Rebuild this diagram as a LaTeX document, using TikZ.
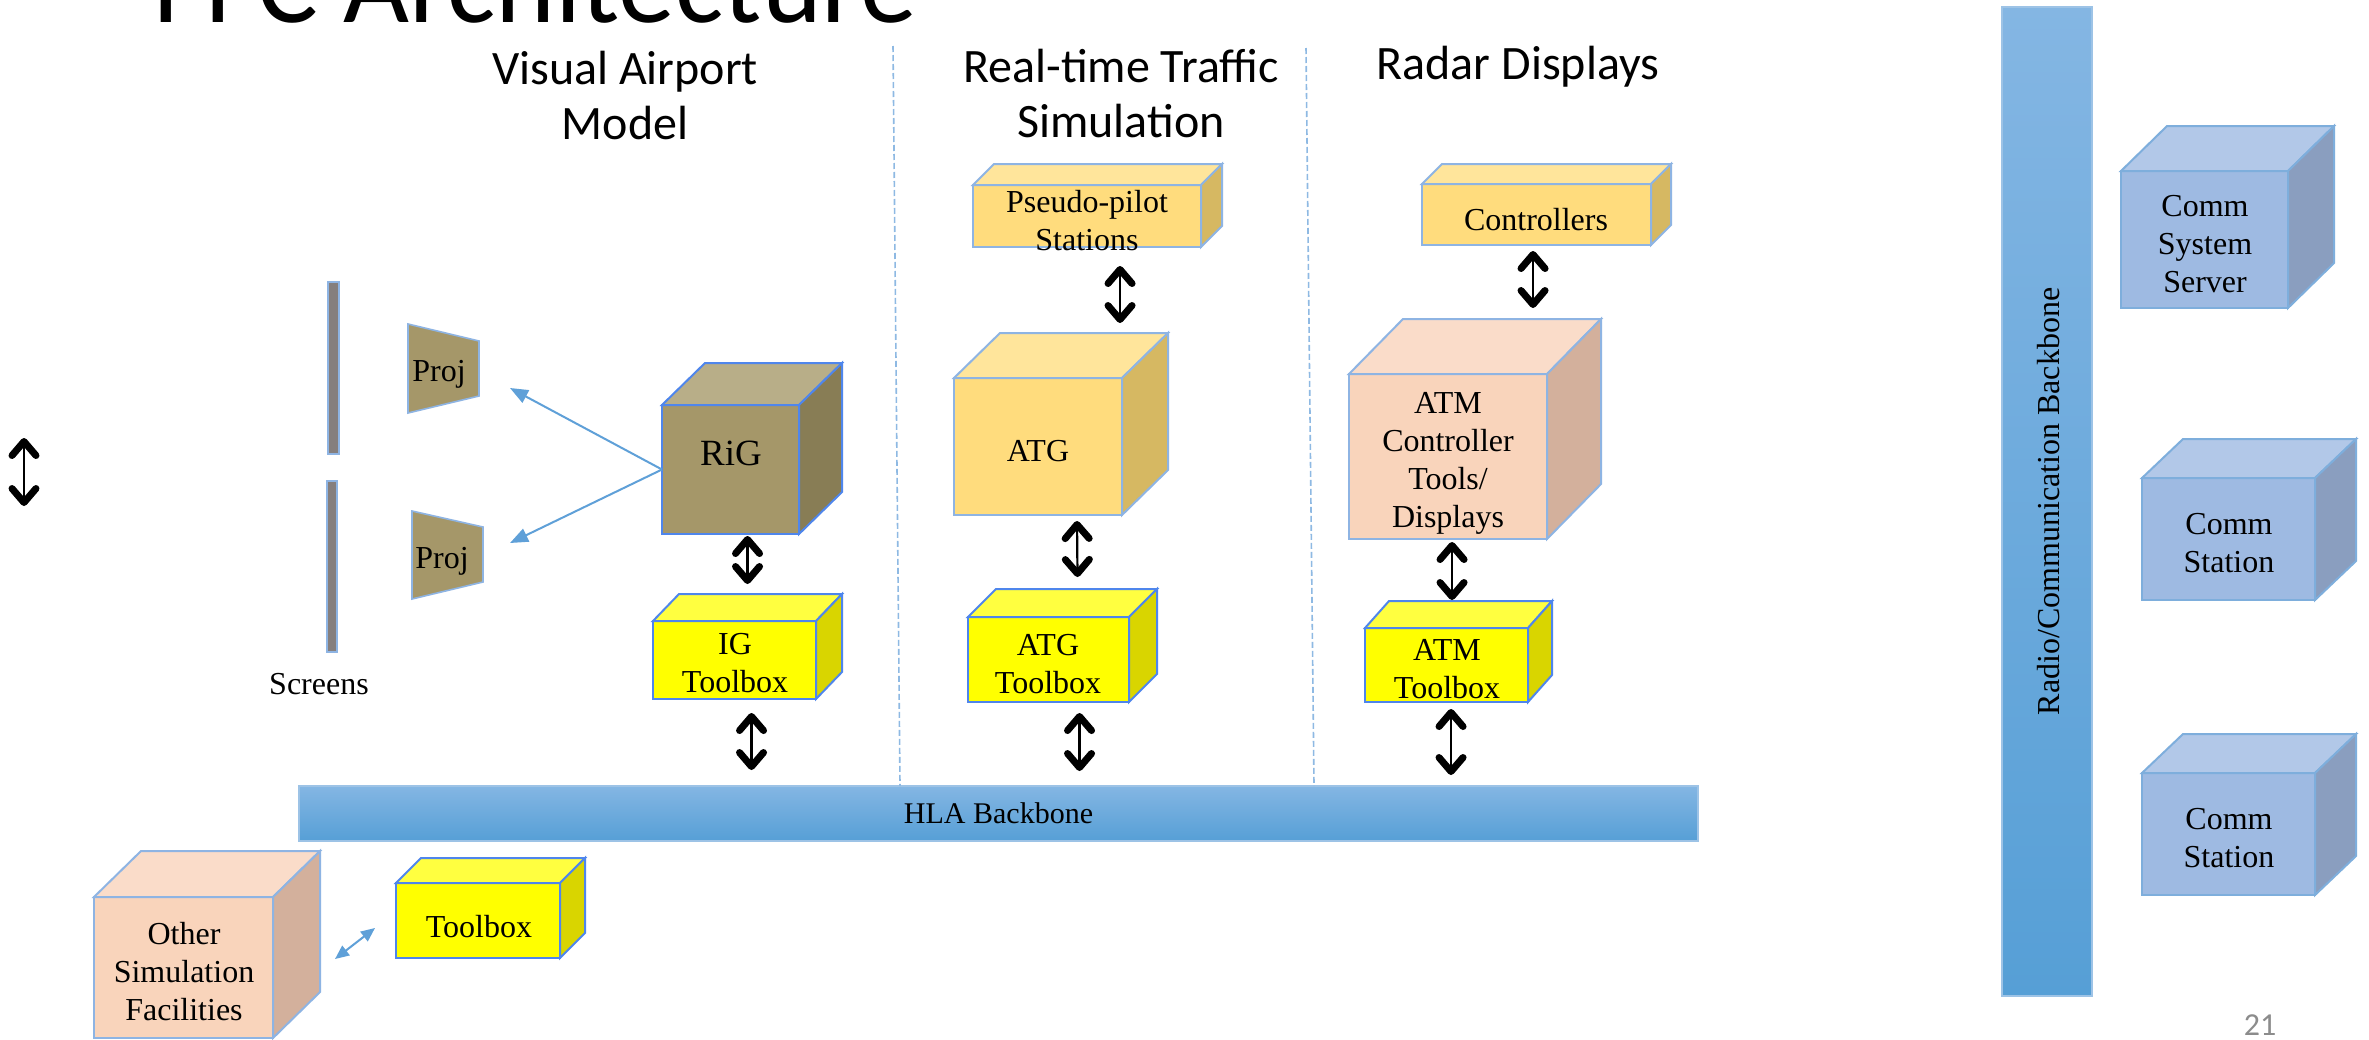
\documentclass[tikz,border=0pt]{standalone}
\usepackage{fontspec}
\setmainfont{Liberation Serif}
\newfontfamily\hdrfont{Carlito}
\usetikzlibrary{arrows.meta,calc}

% palettes: F = front, T = top, S = side, B = border
\definecolor{goldF}{HTML}{FFDC7D}
\definecolor{goldT}{HTML}{FFE59B}
\definecolor{goldS}{HTML}{D6B862}
\definecolor{goldB}{HTML}{8EB4E3}
\definecolor{yelF}{HTML}{FFFF00}
\definecolor{yelT}{HTML}{FFFF40}
\definecolor{yelS}{HTML}{D9D500}
\definecolor{yelB}{HTML}{4F86EC}
\definecolor{peachF}{HTML}{F9D4BB}
\definecolor{peachT}{HTML}{FADCC9}
\definecolor{peachS}{HTML}{D3B09C}
\definecolor{peachB}{HTML}{8EB4E3}
\definecolor{oliveF}{HTML}{A59769}
\definecolor{oliveT}{HTML}{B8AE88}
\definecolor{oliveS}{HTML}{887D55}
\definecolor{oliveB}{HTML}{4F86EC}
\definecolor{steelF}{HTML}{9EBAE2}
\definecolor{steelT}{HTML}{B2C8E8}
\definecolor{steelS}{HTML}{8A9EBF}
\definecolor{steelB}{HTML}{7EAEDC}
\definecolor{screenGray}{HTML}{857F7E}
\definecolor{thinEdge}{HTML}{8EB4E3}
\definecolor{barTop}{HTML}{84B6E3}
\definecolor{barBot}{HTML}{569FD6}
\definecolor{barEdge}{HTML}{9DC3E6}
\definecolor{sepBlue}{HTML}{8EB9E3}
\definecolor{linkBlue}{HTML}{5FA0D8}
\definecolor{pageGray}{HTML}{8C8C8C}

% 3-D box: name, x1, y1, x2, y2 (front face), depth dx, dy, palette
\newcommand{\boxthreed}[8]{%
  \node[frontface, draw=#8B, fill=#8F,
        minimum width={(#4-#2)*0.5pt}, minimum height={(#5-#3)*0.5pt}]
        (#1) at ({(#2+#4)/2},{(#3+#5)/2}) {};
  \filldraw[faceedge, draw=#8B, fill=#8T] (#1.north west) -- ++(#6,-#7)
        -- ++({#4-#2},0) -- (#1.north east) -- cycle;
  \filldraw[faceedge, draw=#8B, fill=#8S] (#1.north east) -- ++(#6,-#7)
        -- ++(0,{#5-#3}) -- (#1.south east) -- cycle;
}

\begin{document}
\begin{tikzpicture}[x=0.5pt,y=-0.5pt,
  frontface/.style={inner sep=0pt, outer sep=0pt, line width=1pt},
  faceedge/.style={line width=1pt, line join=miter},
  lbl/.style={anchor=north, align=center, inner sep=0pt,
              font=\fontsize{16}{19}\selectfont, execute at begin node=\strut},
  biglbl/.style={lbl, font=\fontsize{18.5}{22}\selectfont},
  header/.style={anchor=north, align=center, inner sep=0pt,
                 font=\hdrfont\fontsize{24}{27.5}\selectfont, execute at begin node=\strut},
  barb/.tip={Straight Barb[length=7pt,width=12pt,line width=3.5pt,round]},
  btri/.tip={Triangle[length=9pt,width=7pt]},
  stri/.tip={Triangle[length=7pt,width=6pt]},
  dbl/.style={line width=1.1pt, barb-barb},
  feed/.style={draw=linkBlue, line width=1pt, -btri, color=linkBlue},
  link/.style={draw=linkBlue, line width=1pt, stri-stri, color=linkBlue},
  sep/.style={draw=sepBlue, line width=0.8pt, dash pattern=on 3pt off 1.5pt},
  screen/.style={draw=thinEdge, fill=screenGray, line width=0.6pt, inner sep=0pt},
  projbox/.style={inner sep=0pt, outer sep=0pt},
  bar/.style={draw=barEdge, line width=0.8pt, inner sep=0pt, outer sep=0pt}
]
\useasboundingbox (0,0) rectangle (2369,1039);
\fill[white] (0,0) rectangle (2369,1039);

% slide title and page number
\node[anchor=base west, inner sep=0pt, font=\hdrfont\fontsize{57}{60}\selectfont]
  (title) at (153,22) {FFC Architecture};
\node[anchor=base, inner sep=0pt, text=pageGray, font=\hdrfont\fontsize{16}{18}\selectfont]
  (pgnum) at (2260,1035) {21};

% column headers
\node[header] (hvis) at (625,51) {Visual Airport\\Model};
\node[header] (hrts) at (1121,49) {Real-time Traffic\\Simulation};
\node[header] (hrad) at (1518,41) {Radar Displays};

% HLA backbone
\node[bar, top color=barTop, bottom color=barBot,
      minimum width={1399*0.5pt}, minimum height={55*0.5pt},
      font=\fontsize{15}{18}\selectfont] (hla) at (998.5,813.5) {HLA Backbone};

% column separators
\draw[sep] (893,46) -- (900,786);
\draw[sep] (1306,48) -- (1314,786);

% radio / communication backbone
\node[bar, top color=barTop, bottom color=barBot,
      minimum width={90*0.5pt}, minimum height={989*0.5pt}] (radio) at (2047,501.5) {};
\node[rotate=90, inner sep=0pt, font=\fontsize{16}{18}\selectfont] (radiolbl)
  at (2049,501.5) {Radio/Communication Backbone};

% screens and projectors
\node[screen, minimum width={11*0.5pt}, minimum height={172*0.5pt}] (scr1) at (333.5,368) {};
\node[screen, minimum width={10*0.5pt}, minimum height={171*0.5pt}] (scr2) at (332,566.5) {};
\node[lbl] (scrlbl) at (319,667) {Screens};

\node[projbox, minimum width={71*0.5pt}, minimum height={89*0.5pt}] (proj1) at (443.5,368.5) {};
\filldraw[fill=oliveF, draw=thinEdge, line width=0.8pt]
  (proj1.north west) -- ([shift={(0,17)}]proj1.north east)
  -- ([shift={(0,-17)}]proj1.south east) -- (proj1.south west) -- cycle;
\node[lbl] (proj1lbl) at (439,354) {Proj};

\node[projbox, minimum width={71*0.5pt}, minimum height={88*0.5pt}] (proj2) at (447.5,555) {};
\filldraw[fill=oliveF, draw=thinEdge, line width=0.8pt]
  (proj2.north west) -- ([shift={(0,16)}]proj2.north east)
  -- ([shift={(0,-17)}]proj2.south east) -- (proj2.south west) -- cycle;
\node[lbl] (proj2lbl) at (442,541) {Proj};

% image generation column
\boxthreed{rig}{662}{405}{799}{534}{43}{42}{olive}
\node[biglbl] (riglbl) at (731,434) {RiG};
\boxthreed{ig}{653}{621}{816}{699}{26}{27}{yel}
\node[lbl] (iglbl) at (735,633) {IG\\Toolbox};

% traffic simulation column
\boxthreed{pp}{973}{185}{1201}{247}{21}{21}{gold}
\node[lbl] (pplbl) at (1087,190) {Pseudo-pilot\\Stations};
\boxthreed{atg}{954}{378}{1122}{515}{46}{45}{gold}
\node[lbl] (atglbl) at (1038,434) {ATG};
\boxthreed{atgtb}{968}{617}{1129}{702}{28}{28}{yel}
\node[lbl] (atgtblbl) at (1048,634) {ATG\\Toolbox};

% radar displays column
\boxthreed{ctrl}{1422}{184}{1651}{245}{20}{20}{gold}
\node[lbl] (ctrllbl) at (1536,203) {Controllers};
\boxthreed{atm}{1349}{374}{1547}{539}{54}{55}{peach}
\node[lbl] (atmlbl) at (1448,392) {ATM\\Controller\\Tools/\\Displays};
\boxthreed{atmtb}{1365}{628}{1528}{702}{24}{27}{yel}
\node[lbl] (atmtblbl) at (1447,639) {ATM\\Toolbox};

% external facilities
\boxthreed{other}{94}{897}{273}{1038}{47}{46}{peach}
\node[lbl] (otherlbl) at (184,922) {Other\\Simulation\\Facilities};
\boxthreed{tb}{396}{883}{560}{958}{25}{25}{yel}
\node[lbl] (tblbl) at (479,910) {Toolbox};

% communication equipment
\boxthreed{css}{2121}{171}{2288}{308}{46}{45}{steel}
\node[lbl] (csslbl) at (2205,195) {Comm\\System\\Server};
\boxthreed{cs1}{2142}{478}{2315}{600}{41}{39}{steel}
\node[lbl] (cs1lbl) at (2229,513) {Comm\\Station};
\boxthreed{cs2}{2142}{773}{2315}{895}{41}{39}{steel}
\node[lbl] (cs2lbl) at (2229,808) {Comm\\Station};

% connectors
\draw[feed] (rig.west) -- ($(proj1.east)+(31,19.5)$);
\draw[feed] (rig.west) -- ($(proj2.east)+(27,-12)$);
\draw[dbl] ($(rig.south)+(17,2)$) -- ($(ig.north)+(13,-37)$);
\draw[dbl] ($(ig.south)+(17,14)$) -- ($(hla.north -| ig.south)+(17,-16)$);

\draw[dbl] ($(pp.south)+(33,19)$) -- ($(atg.north)+(82,-55)$);
\draw[dbl] ($(atg.south)+(39,6)$) -- ($(atgtb.north)+(29,-40)$);
\draw[dbl] ($(atgtb.south)+(31,11)$) -- ($(hla.north -| atgtb.south)+(31,-15)$);

\draw[dbl] ($(ctrl.south)+(-3.5,6)$) -- ($(atm.north)+(85,-66)$);
\draw[dbl] ($(atm.south)+(4,3)$) -- ($(atmtb.north)+(5.5,-28)$);
\draw[dbl] ($(atmtb.south)+(4.5,7)$) -- ($(hla.north -| atmtb.south)+(4.5,-11)$);

\draw[link] ($(other.east)+(62,-8.5)$) -- ($(tb.west)+(-21,7.5)$);

\coordinate (looseA) at (24,438);
\coordinate (looseB) at (24,506);
\draw[dbl] (looseA) -- (looseB);
\end{tikzpicture}
\end{document}
